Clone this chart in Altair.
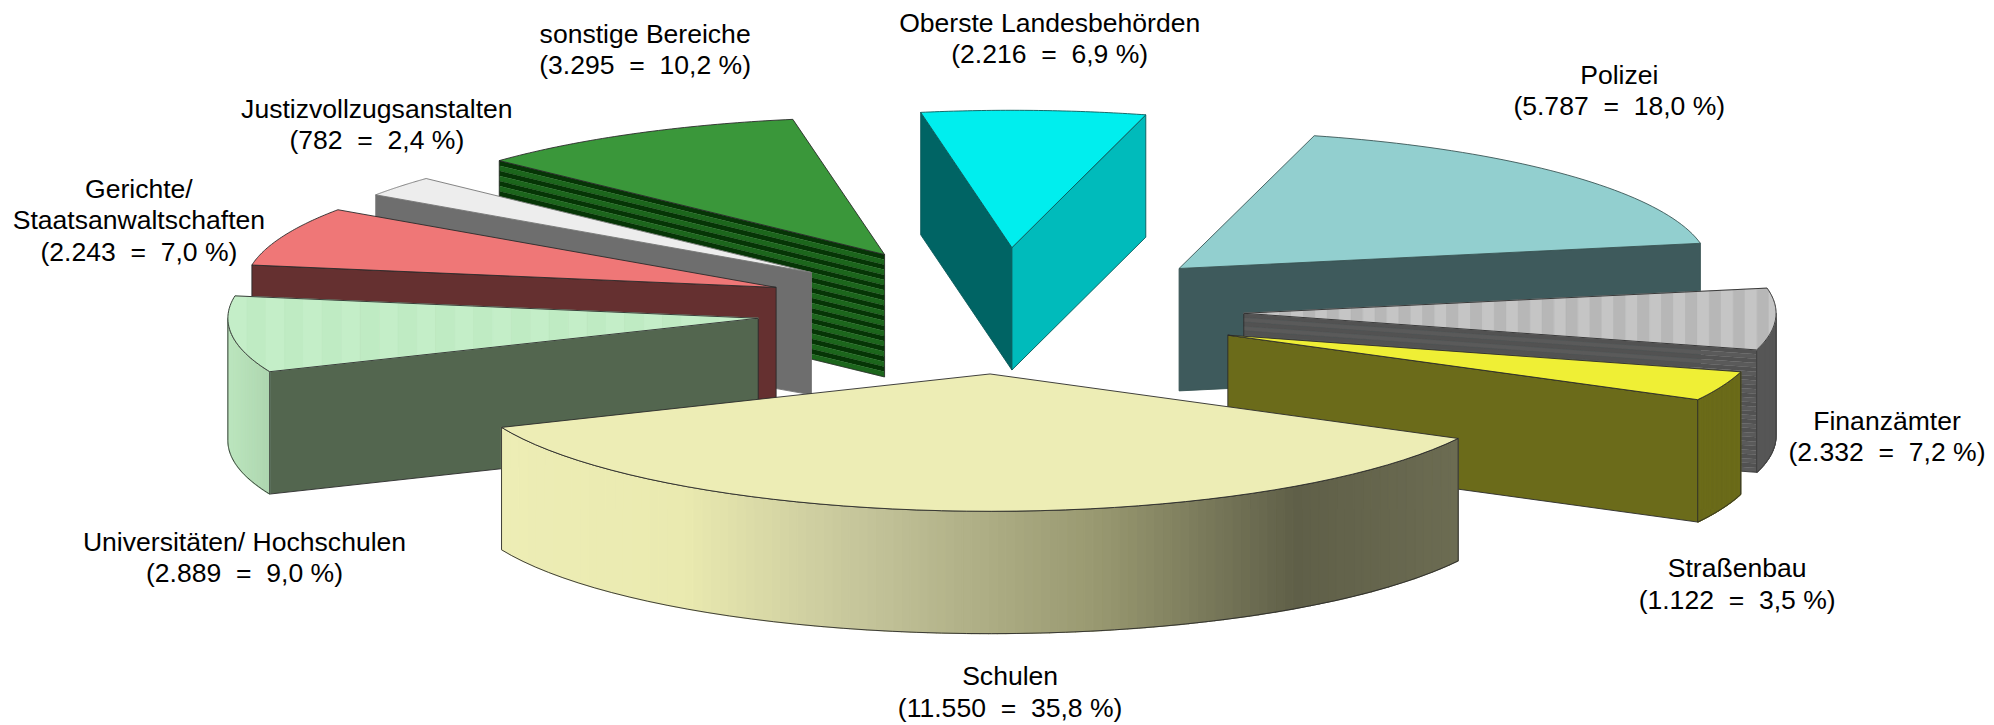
import math
import altair as alt

# ---- chart data ----
names = ["sonstige Bereiche", "Justizvollzugsanstalten", "Gerichte/\nStaatsanwaltschaften",
         "Universitäten/ Hochschulen", "Oberste Landesbehörden", "Polizei", "Finanzämter",
         "Straßenbau", "Schulen"]
values = [3295, 782, 2243, 2889, 2216, 5787, 2332, 1122, 11550]
shares = ["10,2", "2,4", "7,0", "9,0", "6,9", "18,0", "7,2", "3,5", "35,8"]

# clockwise order around the pie, starting from the top slice
clock_order = ["Oberste Landesbehörden", "Polizei", "Finanzämter", "Straßenbau", "Schulen",
               "Universitäten/ Hochschulen", "Gerichte/\nStaatsanwaltschaften",
               "Justizvollzugsanstalten", "sonstige Bereiche"]

# ---- look of the pie ----
W, H = 1988, 717
OFFX, OFFY = 4, 8
LINE = 31.5
RX, RY, DEPTH = 528.0, 138.0, 123.0
RX_SLICE = {"Schulen": 533.0, "Universitäten/ Hochschulen": 533.0, "Finanzämter": 535.0,
            "Straßenbau": 535.0, "Polizei": 533.0, "Gerichte/\nStaatsanwaltschaften": 534.0,
            "Justizvollzugsanstalten": 531.0, "sonstige Bereiche": 531.0}
START = -10.0

apex = {"sonstige Bereiche": (885, 254), "Justizvollzugsanstalten": (811.5, 272),
        "Gerichte/\nStaatsanwaltschaften": (776, 287), "Universitäten/ Hochschulen": (758, 318),
        "Oberste Landesbehörden": (1013, 247), "Polizei": (1181, 268), "Finanzämter": (1246, 313),
        "Straßenbau": (1230, 335), "Schulen": (991, 374)}
top_col = {"sonstige Bereiche": "#3A973A", "Justizvollzugsanstalten": "#EDEDED",
           "Gerichte/\nStaatsanwaltschaften": "#EF7777", "Universitäten/ Hochschulen": "#C2EEC6",
           "Oberste Landesbehörden": "#00EEEE", "Polizei": "#92CFCF", "Finanzämter": "#BDBDBD",
           "Straßenbau": "#EFEF35", "Schulen": "#EDEDB5"}
face_col = {"sonstige Bereiche": "#0A3D0A", "Justizvollzugsanstalten": "#6E6E6E",
            "Gerichte/\nStaatsanwaltschaften": "#653030", "Universitäten/ Hochschulen": "#53664F",
            "Oberste Landesbehörden": "#006464", "Polizei": "#3E5A5C", "Finanzämter": "#555555",
            "Straßenbau": "#6B6B1A", "Schulen": "#6B6B1A"}
line_col = {"Justizvollzugsanstalten": "#777777", "Oberste Landesbehörden": "#0A5A5A",
            "Polizei": "#3A5555"}
label_nudge = {"sonstige Bereiche": (12, -84), "Justizvollzugsanstalten": (-23, -61),
               "Gerichte/\nStaatsanwaltschaften": (-145, -15), "Universitäten/ Hochschulen": (13, 225),
               "Oberste Landesbehörden": (16, -71), "Polizei": (52, -84), "Finanzämter": (112, 119),
               "Straßenbau": (15, 200), "Schulen": (44, 183)}

total = sum(values)
val = dict(zip(names, values))
span = {}
a = START
for n in clock_order:
    b = a + val[n] / total * 360
    span[n] = (a, b)
    a = b


def rim(n, ang):
    t = math.radians(ang)
    ax, ay = apex[n]
    return (ax + RX_SLICE.get(n, RX) * math.sin(t), ay - RY * math.cos(t))


def mix(c1, c2, t):
    p = [int(c1[i:i + 2], 16) for i in (1, 3, 5)]
    q = [int(c2[i:i + 2], 16) for i in (1, 3, 5)]
    return "#%02X%02X%02X" % tuple(round(u + (v - u) * t) for u, v in zip(p, q))


def ramp(stops, t):
    for (t0, c0), (t1, c1) in zip(stops, stops[1:]):
        if t <= t1:
            return mix(c0, c1, (t - t0) / (t1 - t0))
    return stops[-1][1]


features = []


def add(points, fill, stroke=None, sw=0.7):
    ring = [[p[0] - OFFX, p[1] - OFFY] for p in points]
    ring.append(ring[0])
    features.append({"type": "Feature",
                     "geometry": {"type": "Polygon", "coordinates": [ring]},
                     "properties": {"fill": fill, "stroke": stroke or fill, "sw": sw}})


def clip_x(points, x0, x1):
    def cut(pts, x, keep_gt):
        out = []
        for i, p in enumerate(pts):
            q = pts[(i + 1) % len(pts)]
            pin = (p[0] >= x) if keep_gt else (p[0] <= x)
            qin = (q[0] >= x) if keep_gt else (q[0] <= x)
            if pin:
                out.append(p)
            if pin != qin:
                k = (x - p[0]) / (q[0] - p[0])
                out.append((x, p[1] + (q[1] - p[1]) * k))
        return out
    r = cut(points, x0, True)
    return cut(r, x1, False) if r else r


def arc_pts(n, a0, a1, steps=48):
    return [rim(n, a0 + (a1 - a0) * i / steps) for i in range(steps + 1)]


def face(n, ang, col, edge):
    ax, ay = apex[n]
    px, py = rim(n, ang)
    corners = [(ax, ay), (px, py), (px, py + DEPTH), (ax, ay + DEPTH)]
    if n == "sonstige Bereiche":
        bands = 12
        for i in range(bands * 2):
            u0, u1 = i / (bands * 2) * DEPTH, (i + 1) / (bands * 2) * DEPTH
            add([(ax, ay + u0), (px, py + u0), (px, py + u1), (ax, ay + u1)],
                "#063506" if i % 2 == 0 else "#1C661C", None, 0.3)
        add(corners, "transparent", edge, 0.8)
    elif n == "Finanzämter":
        bands = 14
        for i in range(bands * 2):
            u0, u1 = i / (bands * 2) * DEPTH, (i + 1) / (bands * 2) * DEPTH
            add([(ax, ay + u0), (px, py + u0), (px, py + u1), (ax, ay + u1)],
                "#525252" if i % 2 == 0 else "#5A5A5A", None, 0.3)
        add(corners, "transparent", edge, 0.8)
    else:
        add(corners, col, edge, 0.9)


def wall(n, a0, a1, colour_at, edge):
    # strips of even on-screen width along the front wall
    steps = 110
    s0, s1 = math.sin(math.radians(a0)), math.sin(math.radians(a1))
    def ang(s):
        return 180 - math.degrees(math.asin(max(-1, min(1, s))))
    for i in range(steps):
        u0 = ang(s0 + (s1 - s0) * i / steps)
        u1 = ang(s0 + (s1 - s0) * (i + 1) / steps)
        p, q = rim(n, u0), rim(n, u1)
        add([p, q, (q[0], q[1] + DEPTH), (p[0], p[1] + DEPTH)], colour_at((p[0] + q[0]) / 2), None, 1.2)
    arc = arc_pts(n, a0, a1)
    add(arc + [(x, y + DEPTH) for x, y in reversed(arc)], "transparent", edge, 0.9)


for n in names:
    a0, a1 = span[n]
    edge = line_col.get(n, "#2A2A2A")
    # side walls and cut faces, then the top
    s0, s1 = math.sin(math.radians(a0)), math.sin(math.radians(a1))
    if n == "Oberste Landesbehörden":
        face(n, a0, "#006464", edge)
        face(n, a1, "#00BBBB", edge)
    else:
        if s0 < 0:
            face(n, a0, face_col[n], edge)
        if s1 > 0:
            face(n, a1, face_col[n], edge)
    w0, w1 = max(a0, 90), min(a1, 270)
    if w0 < w1:
        if n == "Schulen":
            xl, xr = rim(n, w0)[0], rim(n, w1)[0]
            xl, xr = min(xl, xr), max(xl, xr)
            stops = [(0, "#EDEDB5"), (0.19, "#EAEAB0"), (0.38, "#C4C49A"), (0.63, "#97976F"),
                     (0.83, "#5F5F48"), (1, "#6C6C52")]
            wall(n, w0, w1, lambda x: ramp(stops, (x - xl) / (xr - xl)), "#2A2A2A")
        elif n == "Universitäten/ Hochschulen":
            xl, xr = rim(n, w1)[0], rim(n, w0)[0]
            wall(n, w0, w1, lambda x: mix("#BCE6BE", "#AED6B0", (x - xl) / (xr - xl)), "#2A2A2A")
        elif n == "Finanzämter":
            wall(n, w0, w1, lambda x: "#585858", "#3A3A3A")
        else:
            wall(n, w0, w1, lambda x: face_col[n], "#2A2A2A")
    top = [apex[n]] + arc_pts(n, a0, a1)
    if n in ("Finanzämter", "Universitäten/ Hochschulen"):
        xs = [p[0] for p in top]
        x, width = min(xs), 24 if n == "Finanzämter" else 38
        k = 0
        c0, c1 = ("#C5C5C5", "#B7B7B7") if n == "Finanzämter" else ("#C4EEC8", "#BFEBC3")
        while x < max(xs):
            part = clip_x(top, x, x + width / 2)
            if len(part) >= 3:
                add(part, c0 if k % 2 == 0 else c1, None, 0.9)
            x += width / 2
            k += 1
        add(top, "transparent", edge, 0.9)
    else:
        add(top, top_col[n], edge, 0.9)

label_rows = []
for n, v, s in zip(names, values, shares):
    a0, a1 = span[n]
    rx, ry = rim(n, (a0 + a1) / 2)
    nx, ny = label_nudge[n]
    count = f"{v:,}".replace(",", ".")
    text = f"{n}\n({count}\u00a0\u00a0=\u00a0\u00a0{s} %)"
    lines = text.count("\n")
    label_rows.append({"x": rx + nx - OFFX, "y": ry + ny - OFFY - lines * LINE / 2, "label": text})

shapes = alt.Chart(alt.Data(values=features)).mark_geoshape(filled=True, strokeJoin="round").encode(
    fill=alt.Fill("properties.fill:N", scale=None),
    stroke=alt.Stroke("properties.stroke:N", scale=None),
    strokeWidth=alt.StrokeWidth("properties.sw:Q", scale=None),
).project(type="identity", scale=1, translate=[0, 0])

labels = alt.Chart(alt.Data(values=label_rows)).mark_text(
    font="Liberation Sans", fontSize=26.7, lineBreak="\n", lineHeight=LINE,
    baseline="middle", align="center", color="#000000",
).encode(
    x=alt.X("x:Q", scale=alt.Scale(domain=[0, W], nice=False, zero=False), axis=None),
    y=alt.Y("y:Q", scale=alt.Scale(domain=[H, 0], nice=False, zero=False), axis=None),
    text="label:N",
)

chart = alt.layer(shapes, labels).properties(
    width=W, height=H, padding=0, autosize=alt.AutoSizeParams(type="none"), background="white"
).configure_view(stroke=None)

chart.save("out.html", embed_options={"renderer": "svg", "actions": False})
